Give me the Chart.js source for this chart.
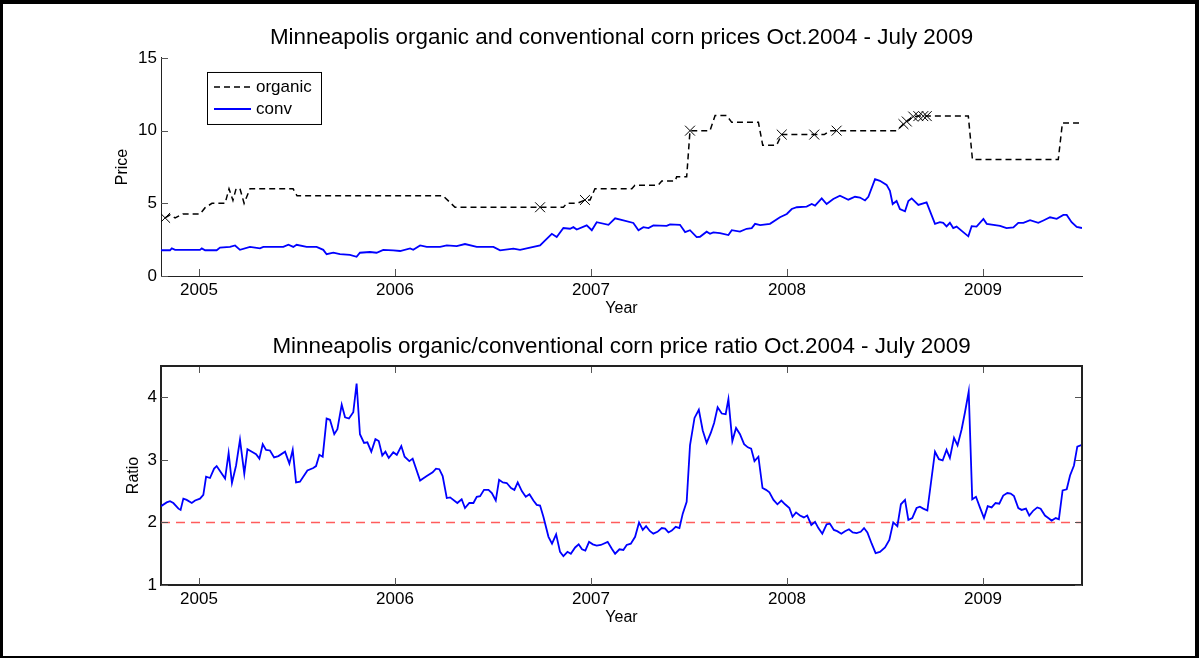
<!DOCTYPE html>
<html>
<head>
<meta charset="utf-8">
<title>Minneapolis organic and conventional corn prices</title>
<script src="https://cdn.jsdelivr.net/npm/chart.js@4.4.0/dist/chart.umd.min.js"></script>
<style>
  html, body { margin: 0; padding: 0; background: #fff; }
  #wrap { position: relative; width: 1199px; height: 658px; overflow: hidden; }
  #wrap canvas { position: absolute; left: 0; }
  #frame { position: absolute; left: 0; top: 0; width: 1199px; height: 658px; box-sizing: border-box;
           border-style: solid; border-color: #000; border-width: 4px 4px 2px 3px; pointer-events: none; }
</style>
</head>
<body>
<div id="wrap">
  <canvas id="priceChart" width="1199" height="329" style="top:0;width:1199px;height:329px"></canvas>
  <canvas id="ratioChart" width="1199" height="329" style="top:329px;width:1199px;height:329px"></canvas>
  <div id="frame"></div>
</div>
<script>
// x values are decimal years
const xMin = 2004.806;
const xMax = 2009.505;
const yearTicks = [2005, 2006, 2007, 2008, 2009];
const priceTicks = [0, 5, 10, 15];
const ratioTicks = [1, 2, 3, 4];

// organic price (step series)
const orgX = [2004.827, 2004.852, 2004.878, 2004.918, 2005.005, 2005.031, 2005.066, 2005.133, 2005.153, 2005.173,
  2005.189, 2005.209, 2005.230, 2005.260, 2005.480, 2005.500, 2006.245, 2006.306, 2006.740, 2006.859,
  2006.876, 2006.929, 2006.969, 2006.995, 2007.020, 2007.208, 2007.224, 2007.343, 2007.361, 2007.429,
  2007.437, 2007.488, 2007.505, 2007.607, 2007.633, 2007.692, 2007.718, 2007.854, 2007.876, 2007.947,
  2007.973, 2008.139, 2008.190, 2008.219, 2008.253, 2008.560, 2008.594, 2008.611, 2008.644, 2008.670,
  2008.695, 2008.713, 2008.925, 2008.946, 2009.384, 2009.405, 2009.505];
const orgY = [4.0, 4.2, 4.0, 4.27, 4.27, 4.7, 5.0, 5.0, 6.0, 5.2,
  6.0, 6.0, 5.0, 6.0, 6.0, 5.52, 5.52, 4.73, 4.73, 4.73,
  5.0, 5.0, 5.23, 5.23, 6.0, 6.0, 6.25, 6.25, 6.54, 6.54,
  6.82, 6.82, 10.0, 10.0, 11.04, 11.04, 10.57, 10.57, 9.0, 9.0,
  9.73, 9.73, 9.73, 10.0, 10.0, 10.0, 10.45, 10.63, 10.97, 11.0,
  11.0, 11.0, 11.0, 8.02, 8.02, 10.52, 10.52];

// organic quotes marked with an x
const markX = [2004.827, 2006.740, 2006.969, 2007.505, 2007.973, 2008.139, 2008.253, 2008.594, 2008.611, 2008.644, 2008.670, 2008.695, 2008.713];
const markY = [4.0, 4.73, 5.23, 10.0, 9.73, 9.73, 10.0, 10.45, 10.63, 10.97, 11.0, 11.0, 11.0];

// conventional price
const convX = [2004.806, 2004.852, 2004.861, 2004.878, 2005.005, 2005.014, 2005.031, 2005.090, 2005.107, 2005.158,
  2005.184, 2005.209, 2005.260, 2005.311, 2005.328, 2005.430, 2005.456, 2005.481, 2005.498, 2005.549,
  2005.600, 2005.634, 2005.651, 2005.685, 2005.719, 2005.770, 2005.804, 2005.821, 2005.872, 2005.906,
  2005.940, 2005.991, 2006.026, 2006.077, 2006.093, 2006.128, 2006.162, 2006.230, 2006.264, 2006.315,
  2006.357, 2006.417,
  2006.502, 2006.536, 2006.604, 2006.638, 2006.689, 2006.740, 2006.766, 2006.800, 2006.825, 2006.859,
  2006.893, 2006.910, 2006.927, 2006.978, 2007.004, 2007.029, 2007.089, 2007.123, 2007.165, 2007.216,
  2007.242, 2007.267, 2007.293, 2007.318, 2007.386, 2007.403, 2007.454, 2007.480, 2007.505, 2007.539,
  2007.556, 2007.590, 2007.607, 2007.624, 2007.658, 2007.701, 2007.718, 2007.760, 2007.794, 2007.820,
  2007.837, 2007.863, 2007.913, 2007.964, 2007.999, 2008.024, 2008.050,
  2008.100, 2008.126, 2008.143, 2008.177, 2008.202, 2008.236, 2008.270, 2008.313, 2008.347, 2008.372,
  2008.398, 2008.415, 2008.449, 2008.474, 2008.508, 2008.525, 2008.539, 2008.559, 2008.576, 2008.602,
  2008.619, 2008.636, 2008.670, 2008.712, 2008.755, 2008.780, 2008.797, 2008.814, 2008.831, 2008.848,
  2008.865, 2008.899, 2008.925, 2008.942, 2008.967, 2009.002, 2009.019, 2009.053, 2009.087, 2009.120,
  2009.155, 2009.180, 2009.206, 2009.240, 2009.282, 2009.308, 2009.342, 2009.376, 2009.410, 2009.427,
  2009.452, 2009.478, 2009.505];
const convY = [1.77, 1.77, 1.9, 1.8, 1.8, 1.9, 1.77, 1.77, 1.95, 2.0,
  2.1, 1.8, 2.0, 1.9, 2.0, 2.0, 2.15, 2.0, 2.15, 2.0,
  2.0, 1.8, 1.5, 1.6, 1.5, 1.45, 1.32, 1.6, 1.65, 1.6,
  1.8, 1.77, 1.72, 1.9, 1.8, 2.1, 2.0, 2.0, 2.1, 2.05,
  2.2, 2.0,
  2.0, 1.77, 1.88, 1.8, 1.95, 2.1, 2.45, 2.9, 2.68, 3.3,
  3.25, 3.36, 3.2, 3.48, 3.15, 3.7, 3.52, 3.97, 3.82, 3.65,
  3.15, 3.36, 3.3, 3.48, 3.45, 3.55, 3.52, 3.02, 3.15, 2.68,
  2.7, 3.05, 2.9, 3.0, 2.95, 2.82, 3.15, 3.05, 3.25, 3.3,
  3.59, 3.5, 3.59, 4.04, 4.27, 4.61, 4.73,
  4.78, 4.95, 4.84, 5.34, 4.95, 5.3, 5.52, 5.25, 5.45, 5.4,
  5.2, 5.45, 6.66, 6.55, 6.27, 5.86, 4.95, 5.16, 4.61, 4.45,
  5.16, 5.34, 4.89, 5.07, 3.59, 3.7, 3.66, 3.41, 3.66, 3.3,
  3.4, 3.02, 2.73, 3.43, 3.4, 3.93, 3.59, 3.52, 3.45, 3.3,
  3.34, 3.66, 3.66, 3.84, 3.66, 3.82, 4.04, 3.93, 4.2, 4.2,
  3.7, 3.38, 3.3];

// organic / conventional ratio
const ratioX = [2004.806, 2004.835, 2004.852, 2004.869, 2004.895, 2004.906, 2004.920, 2004.937, 2004.963, 2004.980,
  2005.005, 2005.022, 2005.036, 2005.056, 2005.077, 2005.090, 2005.133, 2005.151, 2005.168, 2005.189,
  2005.209, 2005.231, 2005.247, 2005.274, 2005.291, 2005.308, 2005.325, 2005.342, 2005.362, 2005.383,
  2005.405, 2005.439, 2005.461, 2005.478, 2005.495, 2005.515, 2005.553, 2005.583, 2005.597, 2005.614,
  2005.631, 2005.651, 2005.668, 2005.690, 2005.706, 2005.728, 2005.745, 2005.765, 2005.787, 2005.804,
  2005.821, 2005.842, 2005.859, 2005.879, 2005.900, 2005.917, 2005.935, 2005.951, 2005.968, 2005.991,
  2006.009, 2006.032, 2006.049, 2006.073, 2006.090, 2006.128, 2006.162, 2006.192, 2006.209, 2006.226,
  2006.243, 2006.264, 2006.281, 2006.318, 2006.340, 2006.357, 2006.379, 2006.400, 2006.417,
  2006.434, 2006.454, 2006.477, 2006.494, 2006.514, 2006.531, 2006.550, 2006.570, 2006.592, 2006.609,
  2006.626, 2006.647, 2006.667, 2006.686, 2006.706, 2006.723, 2006.740, 2006.757, 2006.783, 2006.801,
  2006.822, 2006.842, 2006.859, 2006.880, 2006.897, 2006.919, 2006.937, 2006.954, 2006.971, 2006.990,
  2007.009, 2007.029, 2007.050, 2007.085, 2007.106, 2007.123, 2007.145, 2007.165, 2007.182, 2007.203,
  2007.225, 2007.245, 2007.264, 2007.281, 2007.301, 2007.318, 2007.339, 2007.361, 2007.378, 2007.395,
  2007.412, 2007.432, 2007.451, 2007.468, 2007.488, 2007.505, 2007.528, 2007.550, 2007.570, 2007.590,
  2007.611, 2007.628, 2007.646, 2007.667, 2007.687, 2007.701, 2007.721, 2007.740, 2007.760, 2007.781,
  2007.800, 2007.817, 2007.834, 2007.854, 2007.875, 2007.893, 2007.910, 2007.931, 2007.951, 2007.971,
  2007.990, 2008.012, 2008.028, 2008.046,
  2008.066, 2008.086, 2008.103, 2008.124, 2008.143, 2008.160, 2008.180, 2008.202, 2008.219, 2008.239,
  2008.256, 2008.277, 2008.296, 2008.316, 2008.335, 2008.355, 2008.376, 2008.393, 2008.410, 2008.432,
  2008.452, 2008.474, 2008.500, 2008.522, 2008.542, 2008.563, 2008.581, 2008.602, 2008.619, 2008.639,
  2008.661, 2008.678, 2008.695, 2008.716, 2008.755, 2008.775, 2008.794, 2008.814, 2008.831, 2008.852,
  2008.870, 2008.891, 2008.908, 2008.927, 2008.945, 2008.964, 2008.984, 2009.005, 2009.024, 2009.044,
  2009.064, 2009.083, 2009.103, 2009.124, 2009.141, 2009.158, 2009.180, 2009.197, 2009.219, 2009.236,
  2009.257, 2009.277, 2009.294, 2009.316, 2009.333, 2009.350, 2009.371, 2009.387, 2009.406, 2009.427,
  2009.444, 2009.464, 2009.481, 2009.505];
const ratioY = [2.26, 2.32, 2.34, 2.31, 2.22, 2.2, 2.38, 2.36, 2.31, 2.35,
  2.38, 2.44, 2.73, 2.71, 2.86, 2.9, 2.7, 3.11, 2.63, 2.91,
  3.32, 2.78, 3.17, 3.12, 3.09, 3.02, 3.25, 3.16, 3.15, 3.04,
  3.06, 3.13, 2.94, 3.16, 2.64, 2.65, 2.83, 2.87, 2.9, 3.08,
  3.05, 3.66, 3.64, 3.41, 3.49, 3.88, 3.68, 3.66, 3.76, 4.22,
  3.41, 3.27, 3.28, 3.13, 3.33, 3.3, 3.07, 3.13, 3.03, 3.12,
  3.08, 3.22, 3.05, 2.98, 3.02, 2.67, 2.74, 2.8, 2.86, 2.85,
  2.74, 2.39, 2.4, 2.31, 2.37, 2.23, 2.31, 2.31, 2.41,
  2.42, 2.52, 2.52, 2.47, 2.35, 2.68, 2.64, 2.63, 2.55, 2.52,
  2.64, 2.5, 2.41, 2.45, 2.35, 2.28, 2.27, 2.09, 1.77, 1.66,
  1.81, 1.53, 1.46, 1.53, 1.5, 1.6, 1.65, 1.57, 1.55, 1.69,
  1.65, 1.63, 1.64, 1.69, 1.58, 1.5, 1.57, 1.56, 1.64, 1.66,
  1.77, 2.0, 1.88, 1.94, 1.86, 1.82, 1.85, 1.91, 1.9, 1.84,
  1.87, 1.93, 1.91, 2.14, 2.33, 3.23, 3.67, 3.8, 3.47, 3.27,
  3.43, 3.59, 3.84, 3.74, 3.73, 3.97, 3.3, 3.51, 3.41, 3.25,
  3.2, 3.18, 2.98, 3.05, 2.55, 2.52, 2.48, 2.36, 2.29, 2.35,
  2.29, 2.23, 2.09, 2.16,
  2.11, 2.08, 2.11, 1.96, 2.01, 1.91, 1.82, 1.97, 1.98, 1.88,
  1.86, 1.82, 1.86, 1.89, 1.84, 1.83, 1.85, 1.91, 1.84, 1.66,
  1.51, 1.53, 1.6, 1.72, 2.0, 1.94, 2.29, 2.36, 2.04, 2.07,
  2.23, 2.25, 2.22, 2.19, 3.13, 3.01, 2.99, 3.16, 3.03, 3.35,
  3.23, 3.49, 3.76, 4.09, 2.37, 2.41, 2.24, 2.07, 2.26, 2.24,
  2.31, 2.3, 2.43, 2.47, 2.46, 2.42, 2.23, 2.2, 2.22, 2.11,
  2.19, 2.24, 2.22, 2.11, 2.07, 2.03, 2.07, 2.05, 2.51, 2.53,
  2.75, 2.91, 3.21, 3.24];

// reference line at ratio = 2
const refX = [xMin, xMax];
const refY = [2, 2];

Chart.defaults.font.family = '"Liberation Sans", Arial, Helvetica, sans-serif';
Chart.defaults.color = '#000';

function pts(xs, ys) {
    return xs.map((x, i) => ({ x: x, y: ys[i] }));
}

// matlab style: ticks pointing inwards, optional full box
const matlabAxes = {
    id: 'matlabAxes',
    afterDatasetsDraw(chart, args, opts) {
        const { ctx, chartArea: a, scales } = chart;
        const len = 7;
        ctx.save();
        ctx.strokeStyle = '#555';
        ctx.lineWidth = 1;
        ctx.beginPath();
        scales.x.ticks.forEach(t => {
            const px = Math.round(scales.x.getPixelForValue(t.value)) + 0.5;
            ctx.moveTo(px, a.bottom);
            ctx.lineTo(px, a.bottom - len);
            if (opts.box) {
                ctx.moveTo(px, a.top);
                ctx.lineTo(px, a.top + len);
            }
        });
        scales.y.ticks.forEach(t => {
            const py = Math.round(scales.y.getPixelForValue(t.value)) + 0.5;
            ctx.moveTo(a.left, py);
            ctx.lineTo(a.left + len, py);
            if (opts.box) {
                ctx.moveTo(a.right, py);
                ctx.lineTo(a.right - len, py);
            }
        });
        ctx.stroke();
        if (opts.box) {
            ctx.strokeStyle = '#222';
            ctx.lineWidth = 2;
            ctx.beginPath();
            ctx.moveTo(a.left, a.top);
            ctx.lineTo(a.right, a.top);
            ctx.lineTo(a.right, a.bottom);
            ctx.stroke();
        }
        ctx.restore();
    }
};

// boxed legend in the upper left of the plot
const boxLegend = {
    id: 'boxLegend',
    afterDraw(chart, args, opts) {
        if (!opts.show) return;
        const { ctx, chartArea: a } = chart;
        const x0 = a.left + 46, y0 = a.top + 14, w = 114, h = 52;
        ctx.save();
        ctx.fillStyle = '#fff';
        ctx.fillRect(x0, y0, w, h);
        ctx.strokeStyle = '#000';
        ctx.lineWidth = 1;
        ctx.strokeRect(x0 + 0.5, y0 + 0.5, w, h);
        const items = chart.data.datasets.filter(d => d.label);
        items.forEach((d, i) => {
            const y = y0 + 15 + i * 22;
            ctx.strokeStyle = d.borderColor;
            ctx.lineWidth = d.borderWidth;
            ctx.setLineDash(d.borderDash || []);
            ctx.beginPath();
            ctx.moveTo(x0 + 7, y);
            ctx.lineTo(x0 + 44, y);
            ctx.stroke();
            ctx.setLineDash([]);
            ctx.fillStyle = '#000';
            ctx.font = '17px "Liberation Sans", Arial, sans-serif';
            ctx.textBaseline = 'middle';
            ctx.fillText(d.label, x0 + 49, y);
        });
        ctx.restore();
    }
};

function makeOptions(cfg) {
    return {
        responsive: false,
        animation: false,
        devicePixelRatio: 1,
        layout: { padding: { left: 100, right: 117, top: 0, bottom: cfg.padBottom } },
        plugins: {
            legend: { display: false },
            tooltip: { enabled: false },
            title: {
                display: true, text: cfg.title, color: '#000', fullSize: false,
                font: { size: 22.4, weight: 'normal' },
                padding: { top: cfg.titleTop, bottom: cfg.titleBottom }
            },
            matlabAxes: { box: cfg.box },
            boxLegend: { show: cfg.legend }
        },
        scales: {
            x: {
                type: 'linear', min: xMin, max: xMax,
                afterBuildTicks: s => { s.ticks = yearTicks.map(v => ({ value: v })); },
                afterFit: s => { s.height = 44; },
                ticks: { font: { size: 17 }, padding: 4, maxRotation: 0, autoSkip: false, callback: v => String(v) },
                grid: { display: false, drawTicks: false },
                border: { display: true, color: '#222', width: cfg.axisWidth },
                title: { display: true, text: 'Year', font: { size: 16 }, padding: { top: 0, bottom: 2 } }
            },
            y: {
                type: 'linear', min: cfg.yMin, max: cfg.yMax,
                afterBuildTicks: s => { s.ticks = cfg.yTicks.map(v => ({ value: v })); },
                afterFit: s => { s.width = 61; },
                ticks: { font: { size: 17 }, padding: 4, callback: v => String(v) },
                grid: { display: false, drawTicks: false },
                border: { display: true, color: '#222', width: cfg.axisWidth },
                title: { display: true, text: cfg.yLabel, font: { size: 16 }, padding: { top: cfg.yTitlePad, bottom: 0 } }
            }
        }
    };
}

new Chart(document.getElementById('priceChart'), {
    type: 'line',
    data: {
        datasets: [{
            label: 'organic',
            data: pts(orgX, orgY),
            borderColor: '#000000',
            borderWidth: 1.5,
            borderDash: [6, 4],
            pointRadius: 0
        }, {
            data: pts(markX, markY),
            showLine: false,
            pointStyle: 'crossRot',
            pointRadius: 7,
            pointBorderWidth: 1,
            borderColor: '#000000'
        }, {
            label: 'conv',
            data: pts(convX, convY),
            borderColor: '#0000ff',
            borderWidth: 1.8,
            pointRadius: 0
        }]
    },
    options: makeOptions({
        title: 'Minneapolis organic and conventional corn prices Oct.2004 - July 2009',
        titleTop: 24.6, titleBottom: 6.5, padBottom: 9,
        yMin: 0, yMax: 15, yTicks: priceTicks, yLabel: 'Price', yTitlePad: 13,
        box: false, legend: true, axisWidth: 1
    }),
    plugins: [matlabAxes, boxLegend]
});

new Chart(document.getElementById('ratioChart'), {
    type: 'line',
    data: {
        datasets: [{
            data: pts(ratioX, ratioY),
            borderColor: '#0000ff',
            borderWidth: 1.8,
            pointRadius: 0
        }, {
            data: pts(refX, refY),
            borderColor: '#ff5c5c',
            borderWidth: 1.5,
            borderDash: [9, 6],
            pointRadius: 0
        }]
    },
    options: makeOptions({
        title: 'Minneapolis organic/conventional corn price ratio Oct.2004 - July 2009',
        titleTop: 4.6, titleBottom: 5.5, padBottom: 29,
        yMin: 1, yMax: 4.5, yTicks: ratioTicks, yLabel: 'Ratio', yTitlePad: 23.5,
        box: true, legend: false, axisWidth: 2
    }),
    plugins: [matlabAxes, boxLegend]
});
</script>
</body>
</html>
